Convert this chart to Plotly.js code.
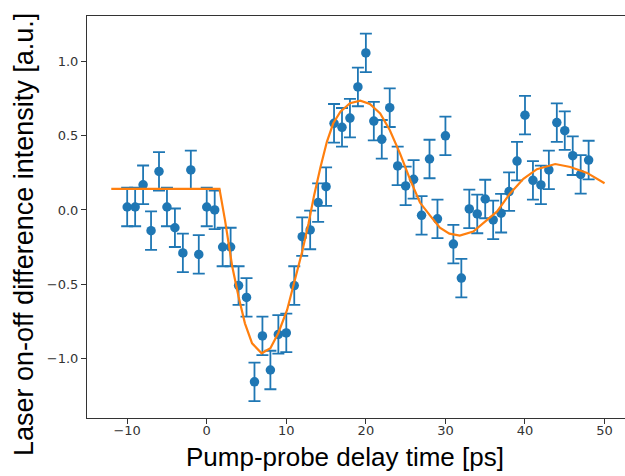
<!DOCTYPE html>
<html>
<head>
<meta charset="utf-8">
<script src="https://cdn.plot.ly/plotly-3.0.1.min.js"></script>
<style>
  html, body { margin: 0; padding: 0; background: #ffffff; }
  #chart { width: 625px; height: 476px; }
</style>
</head>
<body>
<div id="chart"></div>
<script>
// Measured data (pump-probe delay in ps, laser on-off difference intensity)
const delay = [-10, -9, -8, -7, -6, -5, -4, -3, -2, -1, 0, 1, 2, 3, 4, 5, 6, 7, 8, 9,
  10, 11, 12, 13, 14, 15, 16, 17, 18, 19, 20, 21, 22, 23, 24, 25, 26, 27, 28, 29,
  30, 31, 32, 33, 34, 35, 36, 37, 38, 39, 40, 41, 42, 43, 44, 45, 46, 47, 48];
const signal = [0.02, 0.02, 0.17, -0.14, 0.26, 0.02, -0.12, -0.29, 0.27, -0.30,
  0.02, 0.00, -0.25, -0.25, -0.51, -0.59, -1.16, -0.85, -1.08, -0.84,
  -0.83, -0.51, -0.18, -0.135, 0.05, 0.157, 0.585, 0.558, 0.62, 0.83,
  1.06, 0.60, 0.477, 0.69, 0.297, 0.162, 0.207, -0.036, 0.344, -0.06,
  0.50, -0.23, -0.46, 0.007, -0.027, 0.074, -0.067, -0.022, 0.124, 0.33,
  0.64, 0.20, 0.169, 0.27, 0.59, 0.535, 0.366, 0.24, 0.337];
const signalErr = [0.13, 0.13, 0.13, 0.13, 0.13, 0.13, 0.13, 0.13, 0.13, 0.13,
  0.13, 0.13, 0.13, 0.13, 0.13, 0.13, 0.13, 0.13, 0.13, 0.13,
  0.13, 0.13, 0.13, 0.13, 0.13, 0.13, 0.13, 0.13, 0.13, 0.13,
  0.13, 0.13, 0.13, 0.13, 0.13, 0.13, 0.13, 0.13, 0.13, 0.13,
  0.13, 0.13, 0.13, 0.13, 0.13, 0.13, 0.13, 0.13, 0.13, 0.13,
  0.13, 0.13, 0.13, 0.13, 0.13, 0.13, 0.13, 0.13, 0.13];

// Fit curve
const fitDelay = [-12, 1.6, 2.3, 3.2, 4.0, 4.8, 5.7, 6.9, 8.0, 9.0, 10.1, 11.1, 12.0, 12.8,
  13.5, 14.3, 15.1, 15.9, 16.8, 18.0, 19.3, 20.5, 21.8, 23.0, 24.3, 25.6, 26.8, 28.1,
  29.3, 30.5, 31.8, 33.5, 35.2, 36.5, 38.1, 39.8, 41.5, 43.8, 45.7, 47.8, 50];
const fitSignal = [0.142, 0.142, -0.07, -0.38, -0.585, -0.765, -0.90, -0.967, -0.933, -0.83, -0.675, -0.47, -0.28, -0.09,
  0.10, 0.29, 0.46, 0.585, 0.663, 0.72, 0.737, 0.715, 0.652, 0.54, 0.38, 0.20, 0.05, -0.04,
  -0.12, -0.16, -0.173, -0.146, -0.067, -0.01, 0.11, 0.21, 0.275, 0.31, 0.29, 0.25, 0.18];

const xTickVals = [-10, 0, 10, 20, 30, 40, 50];
const xTickText = ['\u221210', '0', '10', '20', '30', '40', '50'];
const yTickVals = [-1.0, -0.5, 0.0, 0.5, 1.0];
const yTickText = ['\u22121.0', '\u22120.5', '0.0', '0.5', '1.0'];

const xTitle = 'Pump-probe delay time [ps]';
const yTitle = 'Laser on-off difference intensity [a.u.]';

const blue = '#1f77b4';
const orange = '#ff7f0e';

const traces = [
  {
    x: delay, y: signal, type: 'scatter', mode: 'markers',
    marker: { color: blue, size: 9.5 },
    error_y: { type: 'data', array: signalErr, visible: true, color: blue, thickness: 1.8, width: 6 },
    showlegend: false, hoverinfo: 'skip'
  },
  {
    x: fitDelay, y: fitSignal, type: 'scatter', mode: 'lines',
    line: { color: orange, width: 2.2, shape: 'linear' },
    showlegend: false, hoverinfo: 'skip'
  }
];

const tickFont = { family: 'DejaVu Sans', size: 13, color: '#333333' };
const titleFont = { family: 'Liberation Sans, Arial, sans-serif', size: 26, color: '#000000' };

const layout = {
  width: 625, height: 476,
  margin: { l: 87, r: 0, t: 16, b: 58 },
  paper_bgcolor: '#ffffff', plot_bgcolor: '#ffffff',
  showlegend: false,
  xaxis: {
    range: [-15.05, 52.57], showgrid: false, zeroline: false,
    showline: true, linecolor: '#333333', linewidth: 1, mirror: true,
    ticks: 'outside', ticklen: 5, tickwidth: 1, tickcolor: '#333333',
    ticklabelstandoff: -5,
    tickvals: xTickVals, ticktext: xTickText, tickfont: tickFont
  },
  yaxis: {
    range: [-1.404, 1.309], showgrid: false, zeroline: false,
    showline: true, linecolor: '#333333', linewidth: 1, mirror: false,
    ticks: 'outside', ticklen: 5, tickwidth: 1, tickcolor: '#333333',
    tickvals: yTickVals, ticktext: yTickText, tickfont: tickFont
  },
  annotations: [
    { text: xTitle, xref: 'paper', yref: 'paper', x: 0.4796, y: 0, xanchor: 'center', yanchor: 'middle',
      yshift: -39, showarrow: false, font: titleFont },
    { text: yTitle, xref: 'paper', yref: 'paper', x: 0, y: 0.4565, xanchor: 'center', yanchor: 'middle',
      xshift: -62.5, textangle: -90, showarrow: false, font: Object.assign({}, titleFont, { size: 27 }) }
  ]
};

Plotly.newPlot('chart', traces, layout, { staticPlot: true, displayModeBar: false });
</script>
</body>
</html>
